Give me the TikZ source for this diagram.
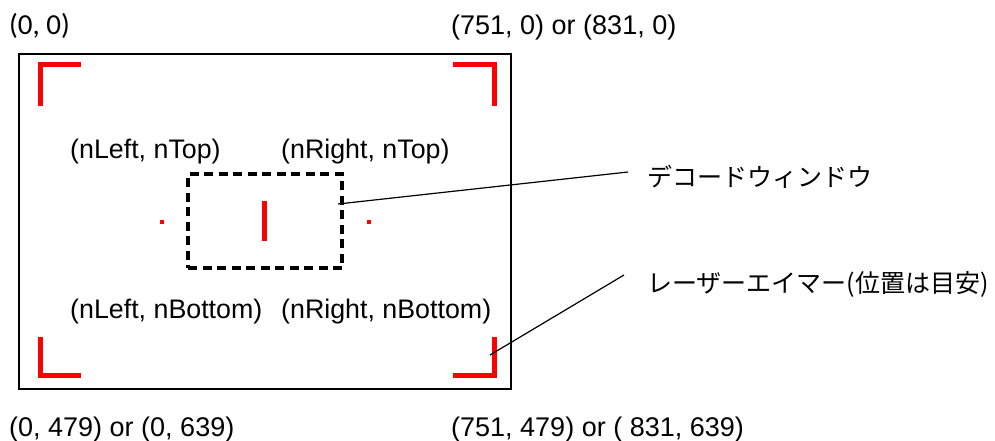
\documentclass[tikz,border=0pt]{standalone}
\usepackage{fontspec}
\setmainfont{Liberation Sans}
\newfontfamily\jafont{Noto Sans CJK JP}
\newfontfamily\calfont{Carlito}
\usetikzlibrary{positioning}

\tikzset{
  corner label/.style={font=\fontsize{27}{32}\selectfont, inner sep=0pt, anchor=base west},
  window label/.style={font=\fontsize{26.8}{32}\selectfont, inner sep=0pt, anchor=base west},
  note label/.style={font=\jafont\fontsize{25}{30}\selectfont, inner sep=0pt, anchor=base west},
  aimer/.style={red, line width=5pt, line cap=butt, line join=miter},
  leader/.style={black, line width=1.2pt},
}

\begin{document}
\begin{tikzpicture}[x=1pt, y=-1pt]
  % Canvas in pixel units, y axis pointing down
  \useasboundingbox (0,0) rectangle (995,441);

  \def\bracketlen{41} % Length of each corner bracket arm

  % Image frame
  \draw[line width=2.2pt] (19,54) rectangle (511,389);

  % Laser aimer corner brackets
  \draw[aimer] (40+\bracketlen,65) -- (40,65) -- (40,65+\bracketlen);
  \draw[aimer] (494-\bracketlen,65) -- (494,65) -- (494,65+\bracketlen);
  \draw[aimer] (40,337) -- (40,375) -- (40+\bracketlen,375);
  \draw[aimer] (494,337) -- (494,375) -- (494-\bracketlen,375);

  % Centre mark and side dots
  \draw[aimer] (264,201) -- (264,241);
  \fill[red] (160,220) rectangle (164,224);
  \fill[red] (367,220) rectangle (371,224);

  % Decode window
  \node (win) [draw, line width=3.5pt, dash pattern=on 9pt off 5.5pt,
    minimum width=154pt, minimum height=94pt, inner sep=0pt] at (265,221) {};

  % Coordinates of the frame corners
  \node (topleft) [corner label, font=\calfont\fontsize{29}{34}\selectfont] at (9,35) {(0, 0)};
  \node (topright) [corner label] at (451,35) {(751, 0) or (831, 0)};
  \node (botleft) [corner label] at (9,436) {(0, 479) or (0, 639)};
  \node (botright) [corner label] at (451,436) {(751, 479) or ( 831, 639)};

  % Coordinates of the window corners
  \node (wtl) [window label] at (70,158) {(nLeft, nTop)};
  \node (wtr) [window label] at (281,158) {(nRight, nTop)};
  \node (wbl) [window label] at (70,318) {(nLeft, nBottom)};
  \node (wbr) [window label] at (281,318) {(nRight, nBottom)};

  % Callouts
  \node (lblwin) [note label] at (647,186) {デコードウィンドウ};
  \node (lblaim) [note label] at (647,292) {レーザーエイマー(位置は目安)};

  \coordinate (winpt) at (338,204);
  \coordinate (winend) at (628,172);
  \coordinate (aimpt) at (490,355);
  \coordinate (aimend) at (624,275);
  \draw[leader] (winpt) -- (winend);
  \draw[leader] (aimpt) -- (aimend);
\end{tikzpicture}
\end{document}
